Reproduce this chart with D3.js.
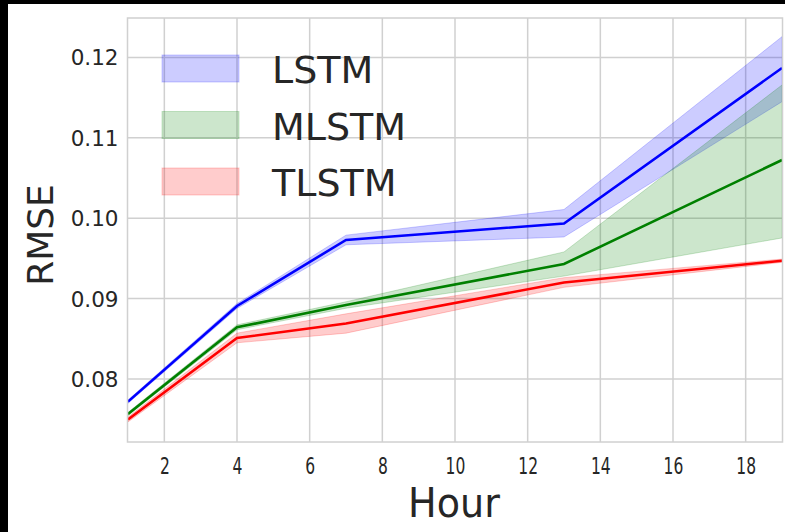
<!DOCTYPE html>
<html><head><meta charset="utf-8">
<script src="https://cdn.jsdelivr.net/npm/d3@7"></script>
<style>body{margin:0;background:#fff}svg{display:block}text{font-family:"DejaVu Sans",sans-serif}</style>
</head><body><svg id="c" width="785" height="532"></svg>
<script>
const hours = [1, 4, 7, 13, 19];
const seriesNames = ["LSTM", "MLSTM", "TLSTM"];
const seriesColors = ["#0000ff", "#008000", "#ff0000"];
const lstmMean = [0.07718, 0.08908, 0.09729, 0.09934, 0.11868];
const lstmLow  = [0.07698, 0.08878, 0.09669, 0.09766, 0.11449];
const lstmHigh = [0.07738, 0.08938, 0.09789, 0.10108, 0.12258];
const mlstmMean = [0.07565, 0.08643, 0.08920, 0.09430, 0.10724];
const mlstmLow  = [0.07545, 0.08613, 0.08880, 0.09280, 0.09754];
const mlstmHigh = [0.07585, 0.08673, 0.08960, 0.09580, 0.11657];
const tlstmMean = [0.07496, 0.08510, 0.08690, 0.09200, 0.09471];
const tlstmLow  = [0.07466, 0.08450, 0.08570, 0.09140, 0.09451];
const tlstmHigh = [0.07526, 0.08570, 0.08810, 0.09260, 0.09491];
const xTicks = [2, 4, 6, 8, 10, 12, 14, 16, 18];
const yTicks = [0.08, 0.09, 0.10, 0.11, 0.12];

const means = [lstmMean, mlstmMean, tlstmMean];
const lows = [lstmLow, mlstmLow, tlstmLow];
const highs = [lstmHigh, mlstmHigh, tlstmHigh];

const svg = d3.select("#c");
const L = 127.5, R = 782.5, T = 18, B = 442;
const x = d3.scaleLinear().domain([1, 19]).range([128, 782]);
const y = d3.scaleLinear().domain([0.07216, 0.1249]).range([B, T]);

svg.append("rect").attr("width", 785).attr("height", 532).attr("fill", "#fff");
svg.append("rect").attr("x", 0).attr("y", 0).attr("width", 785).attr("height", 4).attr("fill", "#000");
svg.append("rect").attr("x", 0).attr("y", 0).attr("width", 8).attr("height", 532).attr("fill", "#000");

svg.append("defs").append("clipPath").attr("id", "clip")
  .append("rect").attr("x", L).attr("y", T).attr("width", R - L).attr("height", B - T);

// grid
const grid = svg.append("g");
grid.selectAll(".gx").data(xTicks).join("line")
  .attr("x1", d => x(d)).attr("x2", d => x(d)).attr("y1", T).attr("y2", B)
  .attr("stroke", "#d0d0d0").attr("stroke-width", 1.5);
grid.selectAll(".gy").data(yTicks).join("line")
  .attr("x1", L).attr("x2", R).attr("y1", d => y(d)).attr("y2", d => y(d))
  .attr("stroke", "#d0d0d0").attr("stroke-width", 1.5);

const plot = svg.append("g").attr("clip-path", "url(#clip)");
const area = d3.area().x((d, i) => x(hours[i])).y0(d => y(d[0])).y1(d => y(d[1]));
const line = d3.line().x((d, i) => x(hours[i])).y(d => y(d));

seriesNames.forEach((name, s) => {
  const bandData = hours.map((h, i) => [lows[s][i], highs[s][i]]);
  plot.append("path").datum(bandData).attr("d", area)
    .attr("fill", seriesColors[s]).attr("fill-opacity", 0.2)
    .attr("stroke", seriesColors[s]).attr("stroke-opacity", 0.2).attr("stroke-width", 1);
});
seriesNames.forEach((name, s) => {
  plot.append("path").datum(means[s]).attr("d", line)
    .attr("fill", "none").attr("stroke", seriesColors[s]).attr("stroke-width", 2.6);
});

// frame
svg.append("rect").attr("x", L).attr("y", T).attr("width", R - L).attr("height", B - T)
  .attr("fill", "none").attr("stroke", "#d0d0d0").attr("stroke-width", 1.5);

// axes
const xAxis = d3.axisBottom(x).tickValues(xTicks).tickSize(0).tickFormat(d3.format("d"));
const gx = svg.append("g").attr("transform", `translate(0,${B})`).call(xAxis);
gx.select(".domain").remove();
gx.selectAll("text").attr("fill", "#262626").attr("font-size", 21).attr("dy", 0)
  .attr("y", 0).attr("transform", "translate(0,31.5) scale(0.74,1.1)");

const yAxis = d3.axisLeft(y).tickValues(yTicks).tickSize(0).tickFormat(d3.format(".2f"));
const gy = svg.append("g").attr("transform", `translate(${L},0)`).call(yAxis);
gy.select(".domain").remove();
gy.selectAll("text").attr("fill", "#262626").attr("font-size", 21.5).attr("x", -9).attr("dy", "0.35em");

svg.append("text").attr("text-anchor", "middle")
  .attr("font-size", 41).attr("fill", "#262626")
  .attr("transform", "translate(454,517) scale(0.93,1.0)")
  .text("Hour");
svg.append("text").attr("transform", "translate(53,235) rotate(-90)").attr("text-anchor", "middle")
  .attr("font-size", 36).attr("fill", "#262626").text("RMSE");

// legend
const leg = svg.append("g");
seriesNames.forEach((name, s) => {
  const cy = 68.5 + s * 56.5;
  leg.append("rect").attr("x", 162).attr("y", cy - 13.5).attr("width", 77).attr("height", 27)
    .attr("fill", seriesColors[s]).attr("fill-opacity", 0.2)
    .attr("stroke", seriesColors[s]).attr("stroke-opacity", 0.2);
  leg.append("text").attr("x", 272).attr("y", cy + 14.5).attr("font-size", 38)
    .attr("fill", "#262626").text(name);
});
</script></body></html>
